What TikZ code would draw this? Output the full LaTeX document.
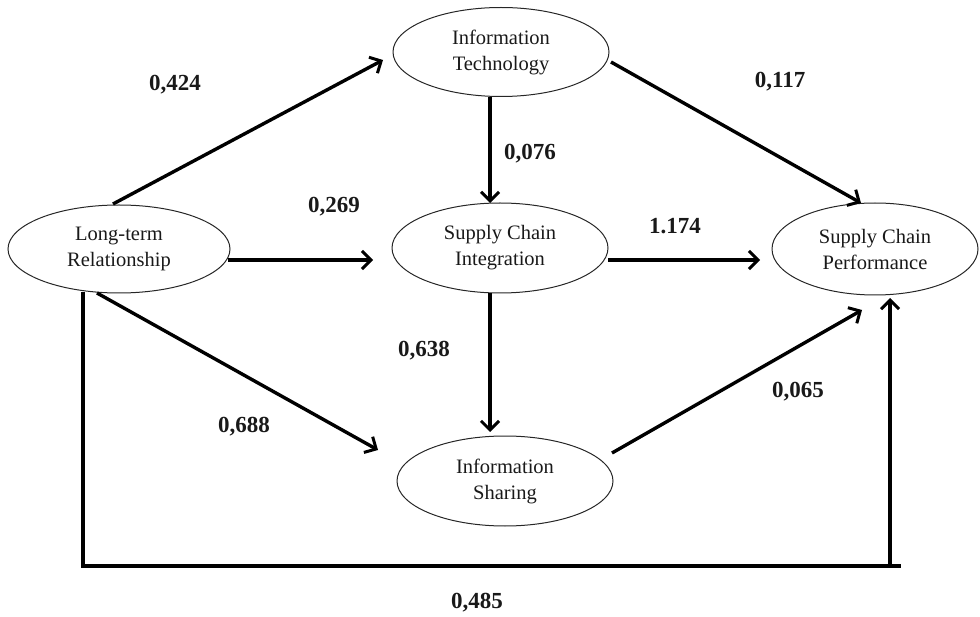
\documentclass[tikz,border=0pt]{standalone}
\usepackage{fontspec}
\setmainfont{Liberation Serif}
\usetikzlibrary{arrows.meta,shapes.geometric}
\begin{document}
\begin{tikzpicture}[x=1pt,y=-1pt,
  latent/.style={draw=black!85,line width=1pt,ellipse,inner sep=0pt,
     align=center,font=\fontsize{20.5}{26}\selectfont,text=black!90},
  path/.style={line width=3.4pt,-{Straight Barb[length=9pt,width=18pt,line width=3pt]}},
  plain/.style={line width=3.4pt},
  coef/.style={font=\fontsize{23}{26}\selectfont\bfseries,text=black!90}]
\useasboundingbox (0,0) rectangle (980,617);
% nodes
\node[latent,minimum width=222pt,minimum height=88pt] (ltr) at (119,249) {Long-term\\Relationship};
\node[latent,minimum width=216pt,minimum height=89pt] (it) at (501,52) {Information\\Technology};
\node[latent,minimum width=216pt,minimum height=90pt] (sci) at (500,248) {Supply Chain\\Integration};
\node[latent,minimum width=216pt,minimum height=90pt] (is) at (505,481) {Information\\Sharing};
\node[latent,minimum width=206pt,minimum height=92pt] (scp) at (875,249) {Supply Chain\\Performance};
% connector end points
\coordinate (a1) at (113,204); \coordinate (a2) at (383,60);
\coordinate (b1) at (611,62);  \coordinate (b2) at (861,203);
\coordinate (c1) at (490,97);  \coordinate (c2) at (490,203);
\coordinate (d1) at (228,260); \coordinate (d2) at (373,260);
\coordinate (e1) at (608,260); \coordinate (e2) at (760,260);
\coordinate (f1) at (490,293); \coordinate (f2) at (490,432);
\coordinate (g1) at (97,293);  \coordinate (g2) at (378,450);
\coordinate (h1) at (612,453); \coordinate (h2) at (862,310);
\coordinate (k1) at (83,292);  \coordinate (k2) at (83,566);
\coordinate (k3) at (901,566); \coordinate (k4) at (890,566);
\coordinate (k5) at (890,298);
% connectors
\draw[path] (a1) -- (a2);
\draw[path] (b1) -- (b2);
\draw[path] (c1) -- (c2);
\draw[path] (d1) -- (d2);
\draw[path] (e1) -- (e2);
\draw[path] (f1) -- (f2);
\draw[path] (g1) -- (g2);
\draw[path] (h1) -- (h2);
\draw[plain] (k1) -- (k2) -- (k3);
\draw[path] (k4) -- (k5);
% coefficients
\node[coef] (l1) at (175,85) {0,424};
\node[coef] (l2) at (780,82) {0,117};
\node[coef] (l3) at (530,154) {0,076};
\node[coef] (l4) at (334,207) {0,269};
\node[coef] (l5) at (675,226) {1.174};
\node[coef] (l6) at (424,351) {0,638};
\node[coef] (l7) at (798,392) {0,065};
\node[coef] (l8) at (244,427) {0,688};
\node[coef] (l9) at (477,603) {0,485};
\end{tikzpicture}
\end{document}
